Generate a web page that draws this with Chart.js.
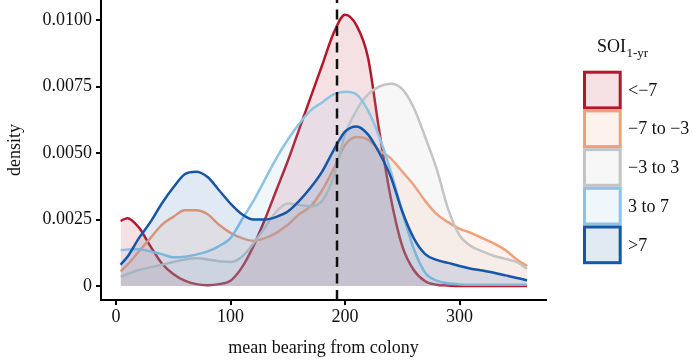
<!DOCTYPE html>
<html>
<head>
<meta charset="utf-8">
<script src="https://cdn.jsdelivr.net/npm/chart.js@4.4.1/dist/chart.umd.min.js"></script>
<style>
  html, body { margin: 0; padding: 0; background: #fff; }
  canvas { display: block; }
</style>
</head>
<body>
<canvas id="densityChart" width="692" height="361"></canvas>
<script>
// === Data ===
const bearings = [4, 10, 20, 30, 40, 50, 60, 70, 80, 90, 100, 110, 120, 130, 140, 150, 160, 170, 180,
  190, 200, 210, 220, 230, 240, 250, 260, 270, 280, 290, 300, 310, 320, 330, 340, 350, 359];

const soiBelowM7 = [0.00245, 0.00255, 0.0022, 0.0015, 0.00085, 0.00045, 0.0002, 0.00007, 0.00003, 0.00007,
  0.0002, 0.0007, 0.0015, 0.0025, 0.0036, 0.0047, 0.0059, 0.0071, 0.0083, 0.0095,
  0.0102, 0.0098, 0.0086, 0.0058, 0.0033, 0.0015, 0.0006, 0.00018, 0.00005, 0.00002,
  0, 0, 0, 0, 0, 0, 0];

const soiM7toM3 = [0.00055, 0.0008, 0.0013, 0.0018, 0.0023, 0.0026, 0.00285, 0.00285, 0.0027, 0.0023,
  0.002, 0.0018, 0.0017, 0.0018, 0.002, 0.0023, 0.0027, 0.003, 0.0036, 0.0044,
  0.0053, 0.0056, 0.0055, 0.0051, 0.0048, 0.0043, 0.0038, 0.0032, 0.0027, 0.0024,
  0.00215, 0.002, 0.0018, 0.0016, 0.00135, 0.001, 0.00075];

const soiM3to3 = [0.00035, 0.00045, 0.0006, 0.0007, 0.0008, 0.0009, 0.001, 0.00104, 0.001, 0.00093,
  0.0009, 0.0011, 0.0016, 0.0022, 0.0028, 0.0031, 0.00305, 0.003, 0.0032, 0.0041,
  0.0057, 0.0066, 0.0072, 0.0075, 0.0076, 0.0074, 0.0067, 0.0056, 0.0044, 0.0029,
  0.0019, 0.0015, 0.0013, 0.00113, 0.00102, 0.0009, 0.00065];

const soi3to7 = [0.00135, 0.00137, 0.00138, 0.0013, 0.0012, 0.00108, 0.0011, 0.00118, 0.0013, 0.0015,
  0.0018, 0.0025, 0.0032, 0.004, 0.0048, 0.0055, 0.0061, 0.0066, 0.0069, 0.0072,
  0.0073, 0.0072, 0.0066, 0.0056, 0.0043, 0.0028, 0.0014, 0.0005, 0.0002, 0.0001,
  0.00006, 0.00005, 0.00005, 0.00005, 0.00005, 0.00005, 0.00005];

const soiAbove7 = [0.0008, 0.0011, 0.0018, 0.0024, 0.0031, 0.0037, 0.0042, 0.0043, 0.0041, 0.0036,
  0.0031, 0.0027, 0.0025, 0.0025, 0.0026, 0.0028, 0.0032, 0.0037, 0.0043, 0.0051,
  0.0058, 0.006, 0.0057, 0.005, 0.0041, 0.0028, 0.0018, 0.0012, 0.00098, 0.00087,
  0.00075, 0.00065, 0.00058, 0.0005, 0.0004, 0.0003, 0.00022];

const groupLabels = ["<\u22127", "\u22127 to \u22123", "\u22123 to 3", "3 to 7", ">7"];
const groupColors = ["#b2182b", "#f29e76", "#c3c5c4", "#8dc3e3", "#1656a8"];
const meanBearing = 193;

const xTicks = [0, 100, 200, 300];
const yTicks = [0, 0.0025, 0.005, 0.0075, 0.01];
const yTickLabels = ["0", "0.0025", "0.0050", "0.0075", "0.0100"];

const xMin = -13.1, xMax = 375.5;
const yMin = -0.000526, yMax = 0.010752;

const serif = "'Liberation Serif', 'Times New Roman', serif";
const fillAlpha = 0.13;

function withAlpha(hex, a) {
  const r = parseInt(hex.slice(1, 3), 16);
  const g = parseInt(hex.slice(3, 5), 16);
  const b = parseInt(hex.slice(5, 7), 16);
  return `rgba(${r}, ${g}, ${b}, ${a})`;
}

// === Datasets ===
const series = [soiBelowM7, soiM7toM3, soiM3to3, soi3to7, soiAbove7];
const datasets = series.map((vals, i) => ({
  label: groupLabels[i],
  data: vals.map((v, j) => ({ x: bearings[j], y: v })),
  borderColor: groupColors[i],
  backgroundColor: withAlpha(groupColors[i], fillAlpha),
  borderWidth: 2.5,
  pointRadius: 0,
  fill: "origin",
  cubicInterpolationMode: "monotone",
  order: series.length - i // first group drawn first, >7 on top
}));

// mean bearing marker
datasets.push({
  label: "mean",
  data: [{ x: meanBearing, y: yMin }, { x: meanBearing, y: yMax }],
  borderColor: "#111",
  borderWidth: 2.5,
  borderDash: [10, 6.5],
  pointRadius: 0,
  fill: false,
  order: 0
});

// === Legend drawn by hand (subscript title) ===
const soiLegend = {
  id: "soiLegend",
  afterDraw(chart) {
    const c = chart.ctx;
    c.save();
    c.fillStyle = "#111";
    c.textBaseline = "alphabetic";
    c.textAlign = "left";
    c.font = `18px ${serif}`;
    c.fillText("SOI", 597, 52);
    const w = c.measureText("SOI").width;
    c.font = `13px ${serif}`;
    c.fillText("1-yr", 597 + w + 0.5, 57);

    const top0 = 70.7, step = 38.7;
    groupLabels.forEach((lab, i) => {
      const top = top0 + i * step;
      c.fillStyle = "#fff";
      c.fillRect(584.5, top + 1.5, 35.7, step - 3);
      c.fillStyle = withAlpha(groupColors[i], fillAlpha);
      c.fillRect(584.5, top + 1.5, 35.7, step - 3);
      c.strokeStyle = groupColors[i];
      c.lineWidth = 3;
      c.strokeRect(584.5, top + 1.5, 35.7, step - 3);
      c.fillStyle = "#111";
      c.font = `18px ${serif}`;
      c.textBaseline = "middle";
      c.fillText(lab, 628, top + step / 2 + 1);
    });
    c.restore();
  }
};

// === Chart ===
const ctx = document.getElementById("densityChart").getContext("2d");
new Chart(ctx, {
  type: "line",
  data: { datasets: datasets },
  plugins: [soiLegend],
  options: {
    responsive: false,
    animation: false,
    layout: { padding: { left: 0, right: 146, top: 0, bottom: 0 } },
    plugins: {
      legend: { display: false },
      tooltip: { enabled: false }
    },
    scales: {
      x: {
        type: "linear",
        min: xMin,
        max: xMax,
        afterBuildTicks: s => { s.ticks = xTicks.map(v => ({ value: v })); },
        afterFit: s => { s.height = 61; s.paddingLeft = 0; s.paddingRight = 0; },
        ticks: { font: { family: serif, size: 18 }, color: "#111", padding: 1, maxRotation: 0, autoSkip: false },
        grid: { display: true, drawOnChartArea: false, drawTicks: true, tickLength: 5, color: "#000", lineWidth: 2 },
        border: { display: true, color: "#000", width: 2 },
        title: { display: true, text: "mean bearing from colony", font: { family: serif, size: 18 }, color: "#111", padding: { top: 0, bottom: 2 } }
      },
      y: {
        type: "linear",
        min: yMin,
        max: yMax,
        afterBuildTicks: s => { s.ticks = yTicks.map(v => ({ value: v })); },
        afterFit: s => { s.width = 101; s.paddingTop = 0; s.paddingBottom = 0; },
        ticks: {
          font: { family: serif, size: 18 },
          color: "#111",
          padding: 4,
          autoSkip: false,
          callback: (v, i) => yTickLabels[i]
        },
        grid: { display: true, drawOnChartArea: false, drawTicks: true, tickLength: 5, color: "#000", lineWidth: 2 },
        border: { display: true, color: "#000", width: 2 },
        title: { display: true, text: "density", font: { family: serif, size: 18 }, color: "#111", padding: { top: 4, bottom: 0 } }
      }
    }
  }
});
</script>
</body>
</html>
